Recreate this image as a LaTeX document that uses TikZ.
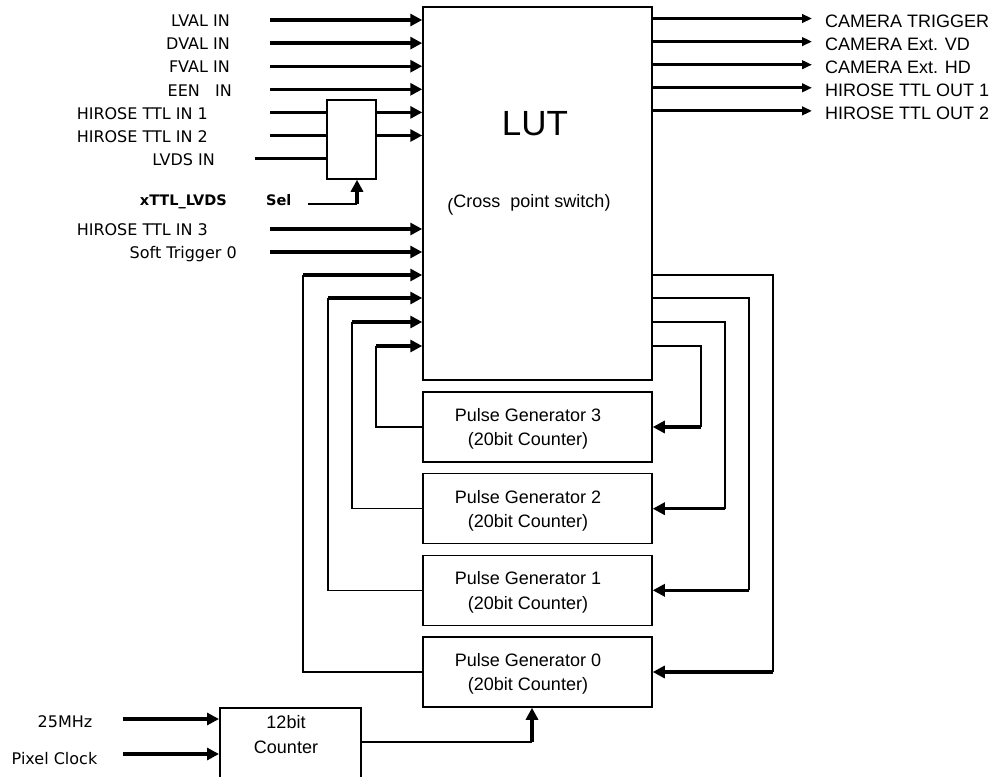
\documentclass[tikz,border=0pt]{standalone}
\usepackage{fontspec}
\setmainfont{Liberation Sans}
\newfontfamily\dejavu{DejaVu Sans}
\usetikzlibrary{arrows.meta, positioning, calc}

\begin{document}
\begin{tikzpicture}[
    x=1pt, y=-1pt,
    box/.style={draw, line width=1.5pt, inner sep=0pt},
    inlabel/.style={font=\dejavu\fontsize{16}{19}\selectfont, inner sep=0pt},
    sellabel/.style={font=\dejavu\bfseries\fontsize{14.5}{17}\selectfont, inner sep=0pt},
    arial/.style={font=\fontsize{18}{24.5}\selectfont, inner sep=0pt, align=center},
    inarrow/.style={line width=3.2pt, -{Triangle[length=12pt, width=12pt]}},
    outarrow/.style={line width=3pt, -{Triangle[length=10pt, width=8.5pt]}},
    feedline/.style={line width=3.2pt},
    thinline/.style={line width=1.4pt}
  ]
  \useasboundingbox (0,0) rectangle (995,776);

  % --- LUT ---
  \node[box, minimum width=229pt, minimum height=373pt] (lut) at (537.5,193.5) {};
  \node[arial, font=\fontsize{35}{40}\selectfont, anchor=base] (luttitle) at (535,135) {LUT};
  \node[arial, anchor=base] (lutsub) at (529,207) {\raisebox{-4pt}{(}Cross\ \ point switch)};

  % --- direct inputs ---
  \foreach \n/\y/\r/\txt in {lval/20/230/LVAL IN, dval/43.1/230/DVAL IN, fval/66.2/230/FVAL IN,
      een/89.3/232/EEN~~~IN, ttlthree/229/208/HIROSE TTL IN 3, soft/252/237/Soft Trigger 0} {
    \node[inlabel, anchor=base east] (\n) at (\r,\y+6.8) {\txt};
    \coordinate (\n-start) at (270,\y);
    \draw[inarrow] (\n-start) -- (\n-start -| lut.west);
  }

  % --- TTL / LVDS selector ---
  \node[box, minimum width=49pt, minimum height=79pt] (mux) at (351.5,139.5) {};
  \foreach \n/\y/\s/\r/\txt in {ttlone/112.4/270/208/HIROSE TTL IN 1, ttltwo/135.5/270/208/HIROSE TTL IN 2,
      lvds/158.6/255/215/LVDS IN} {
    \node[inlabel, anchor=base east] (\n) at (\r,\y+6.8) {\txt};
    \coordinate (\n-start) at (\s,\y);
    \draw[feedline] (\n-start) -- (\n-start -| mux.west);
  }
  \draw[inarrow] (ttlone-start -| mux.east) -- (ttlone-start -| lut.west);
  \draw[inarrow] (ttltwo-start -| mux.east) -- (ttltwo-start -| lut.west);

  \node[sellabel, anchor=base east] (xttl) at (227,205.3) {xTTL\_LVDS};
  \node[sellabel, anchor=base west] (sel) at (266,205.3) {Sel};
  \coordinate (sel-start) at (308,204);
  \coordinate (sel-corner) at (357,204);
  \draw[thinline] (sel-start) -- (sel-corner);
  \draw[inarrow] (sel-corner) -- (sel-corner |- mux.south);

  % --- outputs ---
  \foreach \n/\y/\txt in {camtrig/18.5/CAMERA TRIGGER, camvd/41.6/CAMERA Ext. VD, camhd/64.7/CAMERA Ext. HD,
      ttlout1/87.8/HIROSE TTL OUT 1, ttlout2/110.9/HIROSE TTL OUT 2} {
    \coordinate (\n-end) at (812,\y);
    \draw[outarrow] (\n-end -| lut.east) -- (\n-end);
    \node[arial, anchor=base west] (\n) at (825,\y+9) {\txt};
  }

  % --- pulse generators and their loops ---
  \foreach \i/\yc/\yf/\xl/\xr in {0/672/275/303/773, 1/590.3/298/328/749, 2/508.7/322/352/725, 3/427/346/376/701} {
    \node[box, minimum width=229pt, minimum height=70pt] (pg\i) at (537.5,\yc) {};
    \node[arial] (pg\i-text) at (528,\yc+2) {Pulse Generator \i\\(20bit Counter)};
    \coordinate (fbl\i) at (\xl,\yf);
    \coordinate (fbr\i) at (\xr,\yf);
    \draw[thinline] (pg\i.west) -- (pg\i.west -| fbl\i) -- (fbl\i);
    \draw[inarrow] (fbl\i) -- (fbl\i -| lut.west);
    \draw[thinline] (fbr\i -| lut.east) -- (fbr\i) -- (fbr\i |- pg\i.east);
    \draw[inarrow] (fbr\i |- pg\i.east) -- (pg\i.east);
  }

  % --- 12bit counter ---
  \node[box, minimum width=141pt, minimum height=100pt, anchor=north west] (cnt) at (219,707) {};
  \node[arial] (cnt-text) at (286,734.5) {12bit\\Counter};
  \node[inlabel, anchor=base] (mhz) at (65,727) {25MHz};
  \node[inlabel, anchor=base] (pclk) at (54.5,764) {Pixel Clock};
  \coordinate (mhz-start) at (123,719);
  \coordinate (pclk-start) at (123,754);
  \draw[inarrow] (mhz-start) -- (mhz-start -| cnt.west);
  \draw[inarrow] (pclk-start) -- (pclk-start -| cnt.west);
  \coordinate (cnt-corner) at (532,742);
  \draw[thinline] (cnt-corner -| cnt.east) -- (cnt-corner);
  \draw[inarrow] (cnt-corner) -- (cnt-corner |- pg0.south);

\end{tikzpicture}
\end{document}
